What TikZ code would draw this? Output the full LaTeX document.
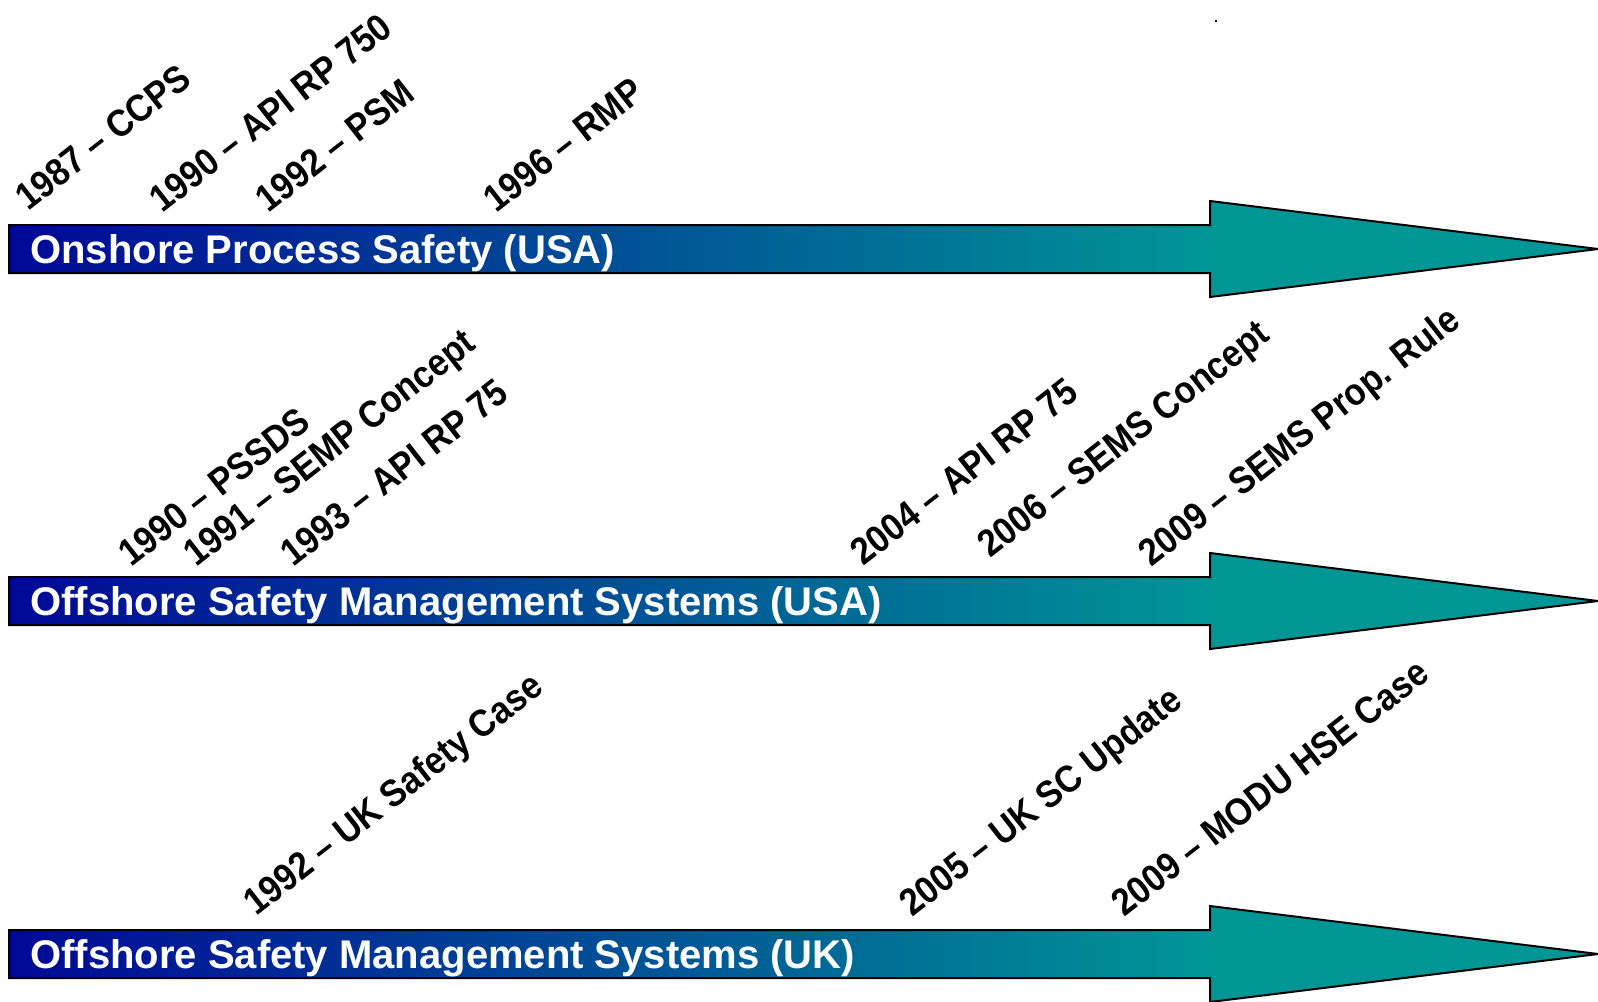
\documentclass[tikz,border=0pt]{standalone}
\usepackage{fontspec}
\setmainfont{Liberation Sans}
\newfontfamily\eventfont[FakeStretch=0.9]{Liberation Sans}
\definecolor{arrblue}{RGB}{0,8,150}
\definecolor{arrteal}{RGB}{0,150,150}
\tikzset{
  shaftfill/.style={left color=arrblue, right color=arrteal},
  headfill/.style={fill=arrteal},
  arrowline/.style={draw=black, line width=1pt, line join=miter},
  bartitle/.style={anchor=base west, text=white, inner sep=0pt,
    font=\bfseries\fontsize{20}{24}\selectfont},
  event/.style={anchor=base west, rotate=38, inner sep=0pt,
    font=\eventfont\bfseries\fontsize{19}{22}\selectfont},
}
\begin{document}
\begin{tikzpicture}[x=0.5pt,y=-0.5pt]
\useasboundingbox (0,0) rectangle (1598,1001);
\foreach \cy in {249,601,954} {
  \shade[shaftfill] (9,\cy-24) rectangle (1211,\cy+24);
  \fill[arrteal] (1210,\cy-48) -- (1598,\cy) -- (1210,\cy+48) -- cycle;
  \draw[arrowline] (9,\cy-24) -- (1210,\cy-24) -- (1210,\cy-48) -- (1598,\cy)
     -- (1210,\cy+48) -- (1210,\cy+24) -- (9,\cy+24) -- cycle;
}
\node[bartitle] (t1) at (30,263) {Onshore Process Safety (USA)};
\node[bartitle] (t2) at (30,615) {Offshore Safety Management Systems (USA)};
\node[bartitle] (t3) at (30,968) {Offshore Safety Management Systems (UK)};

\node[event] (a1) at (28,212) {1987 \textendash{} CCPS};
\node[event] (a2) at (162,214) {1990 \textendash{} API RP 750};
\node[event] (a3) at (268,214) {1992 \textendash{} PSM};
\node[event] (a4) at (496,214) {1996 \textendash{} RMP};

\node[event] (b1) at (131,568) {1990 \textendash{} PSSDS};
\node[event] (b2) at (196,568) {1991 \textendash{} SEMP Concept};
\node[event] (b3) at (293,568) {1993 \textendash{} API RP 75};
\node[event] (b4) at (863,567) {2004 \textendash{} API RP 75};
\node[event] (b5) at (990,559) {2006 \textendash{} SEMS Concept};
\node[event] (b6) at (1151,568) {2009 \textendash{} SEMS Prop. Rule};

\node[event] (c1) at (256,917) {1992 \textendash{} UK Safety Case};
\node[event] (c2) at (912,918) {2005 \textendash{} UK SC Update};
\node[event] (c3) at (1124,918) {2009 \textendash{} MODU HSE Case};

\fill (1215,20) rectangle (1217,22);
\end{tikzpicture}
\end{document}
